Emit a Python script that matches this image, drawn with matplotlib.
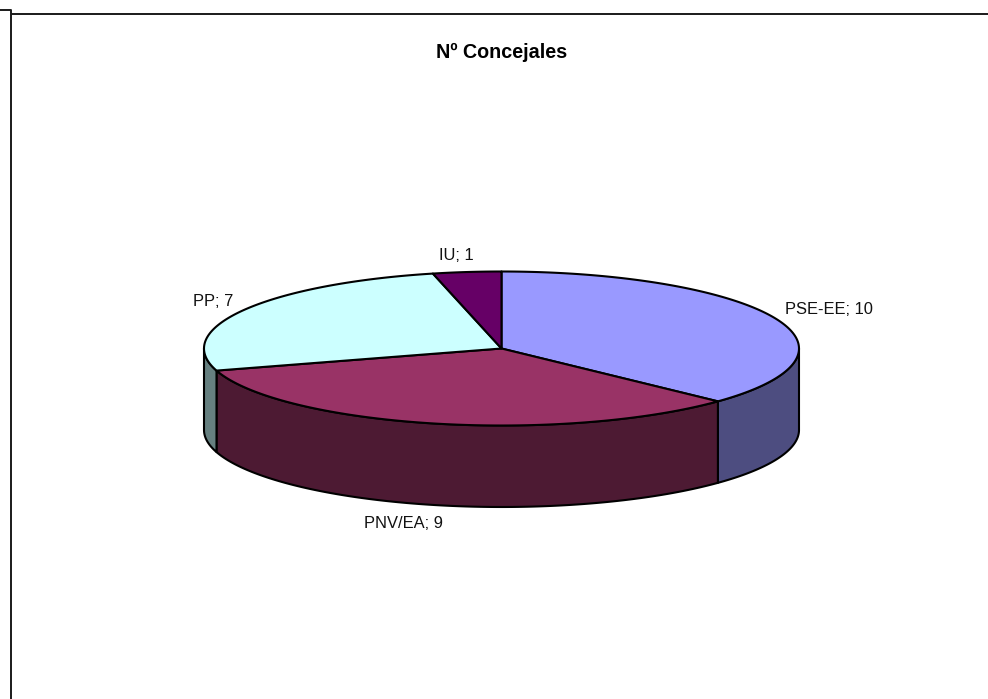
import numpy as np
import matplotlib
matplotlib.use('Agg')
import matplotlib.pyplot as plt

labels = ['PSE-EE', 'PNV/EA', 'PP', 'IU']
values = [10, 9, 7, 1]
top_colors = ['#9999FF', '#993366', '#CCFFFF', '#660066']
side_colors = ['#4D4D80', '#4D1A33', '#668080', '#330033']

plt.rcParams['font.family'] = ['Liberation Sans', 'DejaVu Sans']

W, H = 988, 699
cx, cy, rx, ry, depth = 501.5, 348.5, 297.5, 77, 81.5

fig = plt.figure(figsize=(W / 100, H / 100), dpi=100)
ax = fig.add_axes([0, 0, 1, 1])
ax.set_xlim(0, W)
ax.set_ylim(H, 0)
ax.axis('off')


def rim(t1, t2):
    t = np.radians(np.linspace(t1, t2, 200))
    return cx + rx * np.sin(t), cy - ry * np.cos(t)


# angles clockwise from 12 o'clock
edges = np.cumsum([0] + values) / sum(values) * 360
lw = 1.5

# sides first, only the part facing the viewer (90-270 deg)
for i in range(len(values)):
    a = max(edges[i], 90)
    b = min(edges[i + 1], 270)
    if a >= b:
        continue
    x, y = rim(a, b)
    ax.fill(np.r_[x, x[::-1]], np.r_[y, y[::-1] + depth],
            fc=side_colors[i], ec='black', lw=lw, joinstyle='round', zorder=2)

# top faces
for i in range(len(values)):
    x, y = rim(edges[i], edges[i + 1])
    ax.fill(np.r_[cx, x], np.r_[cy, y], fc=top_colors[i], ec='black',
            lw=lw, joinstyle='round', zorder=3)

# frame lines
frame = dict(color='#1a1a1a', lw=1.4, solid_capstyle='butt', zorder=5)
ax.plot([0, 10.5, 10.5], [9.5, 9.5, H], **frame)
ax.plot([11, W], [13.5, 13.5], **frame)

ax.text(502, 52.5, 'Nº Concejales', fontsize=14.2, fontweight='bold',
        ha='center', va='center', color='black')

label_pos = [(828.5, 309), (403.5, 523), (213, 301), (456.5, 255)]
for name, v, (lx, ly) in zip(labels, values, label_pos):
    ax.text(lx, ly, f'{name}; {v}', fontsize=11.9, ha='center', va='center',
            color='#111111')

fig.savefig('out.png', dpi=100, facecolor='white')
